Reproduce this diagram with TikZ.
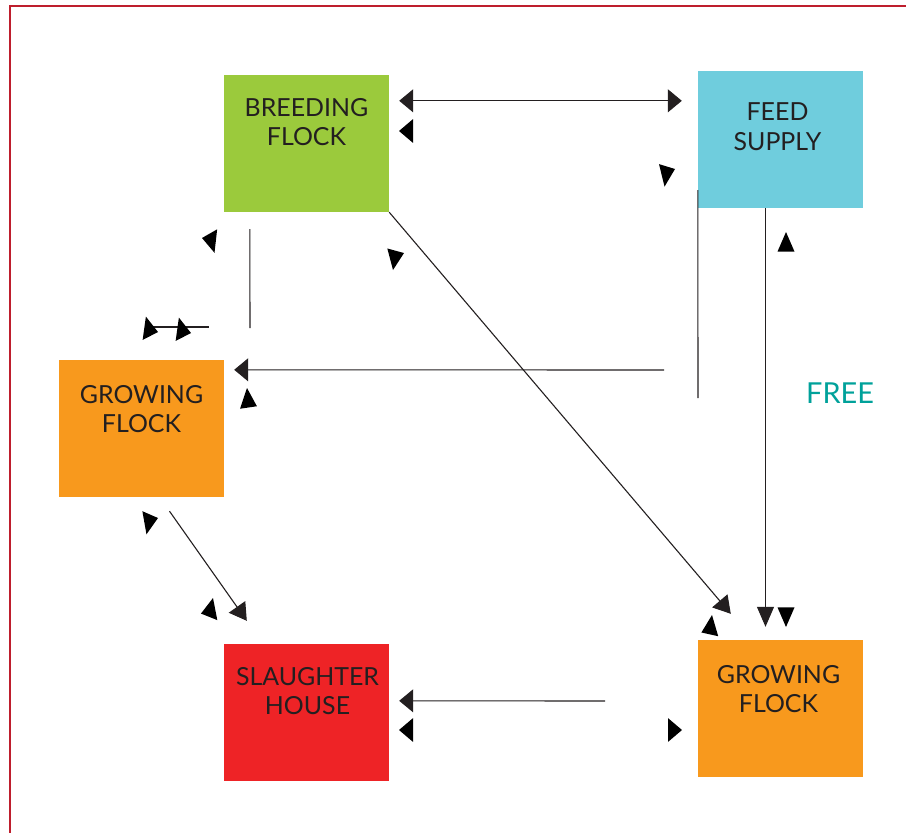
\documentclass[tikz,border=0pt]{standalone}
\usepackage{fontspec}
\setmainfont{Lato}
\usepackage{xcolor}
\usepackage{tikz}
\usetikzlibrary{arrows.meta,calc}

\definecolor{breedgreen}{HTML}{9BCA3C}
\definecolor{feedcyan}{HTML}{6FCDDD}
\definecolor{flockorange}{HTML}{F8991D}
\definecolor{slaughterred}{HTML}{EE2326}
\definecolor{inkgray}{HTML}{231F20}
\definecolor{freeteal}{HTML}{00A19A}
\definecolor{framered}{HTML}{BE1E2D}

\tikzset{
  farmbox/.style={rectangle, minimum width=165bp, minimum height=137bp, inner sep=0pt, draw=none},
  boxtext/.style={anchor=north, align=center, inner sep=0pt, text=inkgray,
    font=\fontsize{25}{30}\selectfont},
  flowline/.style={draw=inkgray, line width=1.1bp},
  hhead/.tip={Triangle[length=14bp,width=23bp]},
  vhead/.tip={Triangle[length=20bp,width=17bp]},
  dhead/.tip={Triangle[length=17bp,width=20bp]},
  tipfill/.style={fill=black},
}
% loose arrow tip: apex x, apex y, direction
\newcommand{\loosetip}[3]{%
  \fill[tipfill, shift={(#1,#2)}, yscale=1.4, rotate=#3] (0,0) -- (-14,8.5) -- (-14,-8.5) -- cycle;}

\begin{document}
\begin{tikzpicture}[x=1bp,y=-1bp]
    \useasboundingbox (0,0) rectangle (906,833);
    \draw[framered, line width=1.5bp] (10,833) -- (10,6) -- (906,6);

    % boxes
    \node[farmbox, fill=breedgreen] (breed) at (306.5,143.5) {};
    \node[farmbox, fill=feedcyan] (feed) at (780.5,139.5) {};
    \node[farmbox, fill=flockorange] (growL) at (141.5,428.5) {};
    \node[farmbox, fill=slaughterred] (slaughter) at (306.5,712.5) {};
    \node[farmbox, fill=flockorange] (growR) at (780.5,708.5) {};

    \node[boxtext] (breedtxt) at ($(breed.north)+(0,23)$) {BREEDING\\FLOCK};
    \node[boxtext] (feedtxt) at ($(feed.north)+(-3,32)$) {FEED\\SUPPLY};
    \node[boxtext] (growLtxt) at ($(growL.north)+(0,25)$) {GROWING\\FLOCK};
    \node[boxtext] (slaughtertxt) at ($(slaughter.north)+(1,23)$) {SLAUGHTER\\HOUSE};
    \node[boxtext] (growRtxt) at ($(growR.north)+(-2,25)$) {GROWING\\FLOCK};

    \node[anchor=north west, inner sep=0pt, text=freeteal, font=\fontsize{29}{34}\selectfont]
      (freelabel) at (806,383) {FREE};

    % free ends
    \coordinate (cstart) at (664,370);
    \coordinate (fstart) at (605,701);
    \coordinate (gend) at (698,398);
    \coordinate (hend) at (250,328);
    \coordinate (istart) at (150,327);
    \coordinate (iend) at (209,327);

    % connectors
    \draw[flowline, hhead-hhead] ($(breed.north east)+(10,26)$) -- ($(feed.north west)+(-16,30)$);
    \draw[flowline, -vhead] ($(feed.south)+(-15,0)$) -- ($(growR.north)+(-15,-13)$);
    \draw[flowline, -hhead] (cstart) -- ($(growL.north east)+(10,10)$);
    \draw[flowline, -dhead] (breed.south east) -- ($(growR.north west)+(33,-26)$);
    \draw[flowline, -dhead] ($(growL.south)+(28,14)$) -- ($(slaughter.north west)+(23,-23)$);
    \draw[flowline, -hhead] (fstart) -- ($(slaughter.north east)+(10,57)$);
    \draw[flowline] ($(feed.south west)+(0,-18)$) -- (gend);
    \draw[flowline] ($(breed.south west)+(26,17)$) -- (hend);
    \draw[flowline] (istart) -- (iend);

    % stray tips
    \foreach \tx/\ty/\ta in {399/131/180, 675/169/19, 202/238/171, 158/332/-11,
        191/333/-11, 247/388/96, 786/232/90, 786/627/-90, 393/270/-101,
        712/615/81, 158/518/14, 213/598/74, 399/730/180, 682/730/0} {
      \loosetip{\tx}{\ty}{\ta}
    }
  \end{tikzpicture}
\end{document}
